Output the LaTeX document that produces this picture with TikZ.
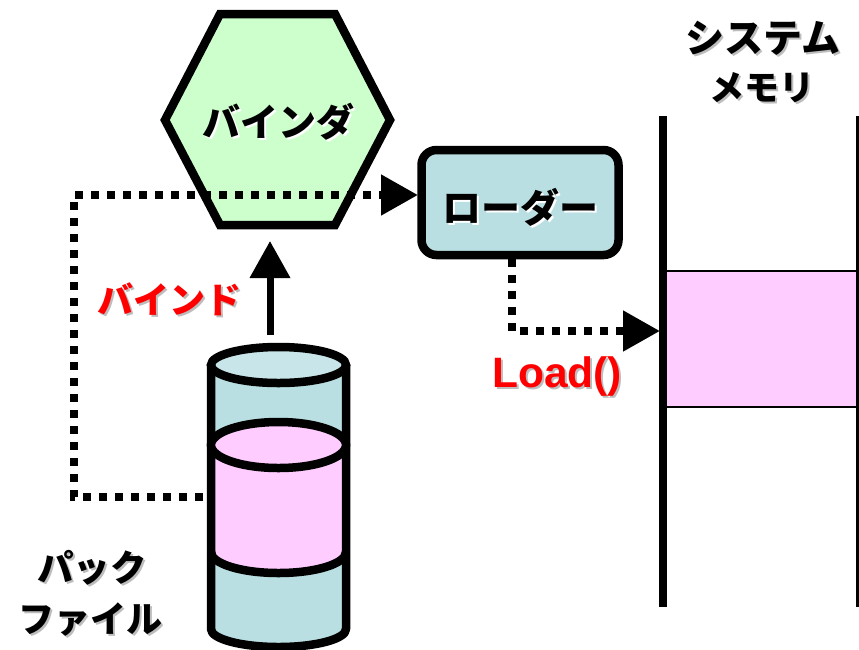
\documentclass[tikz,border=0pt]{standalone}
\usepackage{fontspec}
\usetikzlibrary{arrows.meta}
\newfontfamily\cjkfont{Noto Sans CJK JP}
\newfontfamily\latinbold{Liberation Sans}
\definecolor{tealfill}{HTML}{B9DFE2}
\definecolor{tealtop}{HTML}{C8E6E9}
\definecolor{pinkfill}{HTML}{FFCCFF}
\definecolor{greenfill}{HTML}{CCFFCC}
\definecolor{shadowgray}{HTML}{BDBDBD}
\newcommand{\shtext}[2]{\leavevmode\rlap{\kern2pt\raisebox{-2pt}{\textcolor{#1}{#2}}}#2}
\newcommand{\jpsize}[1]{\cjkfont\bfseries\fontsize{#1}{#1}\selectfont}
\tikzset{
  thick outline/.style={draw=black,line width=8.5pt,line join=miter},
  dotted link/.style={draw=black,line width=8pt,dash pattern=on 8pt off 8pt},
  big tip/.style={-{Triangle[length=37pt,width=39pt]}},
  jp/.style={inner sep=0pt,anchor=center},
  jpred/.style={jp,text=red},
  loaderbox/.style={thick outline,fill=tealfill,rounded corners=15pt,minimum width=197pt,minimum height=105pt,inner sep=0pt},
  memline/.style={draw=black,line width=8pt},
  memthin/.style={draw=black,line width=2pt},
}
\begin{document}
\begin{tikzpicture}[x=1pt,y=-1pt]
\useasboundingbox (0,0) rectangle (859,649);

% named anchor points
\coordinate (memtop) at (663,116);
\coordinate (membot) at (663,607);
\coordinate (memtopR) at (858,116);
\coordinate (membotR) at (858,607);
\coordinate (memtarget) at (660,331);
\coordinate (packleft) at (203,497);
\coordinate (corner1) at (74,497);
\coordinate (corner2) at (74,195);
\coordinate (loaderin) at (418,195);
\coordinate (loaderout) at (512,259);
\coordinate (corner3) at (512,331);
\coordinate (packtop) at (270,335);
\coordinate (bindbottom) at (270,241);

% system memory
\fill[pinkfill] (665,271) rectangle (858,407);
\draw[memthin] (665,271) -- (859,271);
\draw[memthin] (665,407) -- (859,407);
\draw[memline] (memtop) -- (membot);
\draw[draw=black,line width=4pt] (memtopR) -- (membotR);

% pack file cylinder
\path[fill=tealfill] (211,365) -- (211,629) arc[x radius=67.5,y radius=18,start angle=180,end angle=0] -- (346,365) -- cycle;
\path[fill=pinkfill] (211,445) -- (211,552) arc[x radius=67.5,y radius=21,start angle=180,end angle=0] -- (346,445) -- cycle;
\draw[thick outline] (211,552) arc[x radius=67.5,y radius=21,start angle=180,end angle=0];
\draw[thick outline,line join=round] (211,365) -- (211,629) arc[x radius=67.5,y radius=18,start angle=180,end angle=0] -- (346,365);
\draw[thick outline,fill=tealtop] (278.5,365) ellipse[x radius=67.5,y radius=18];
\draw[thick outline,fill=pinkfill] (278.5,445) ellipse[x radius=67.5,y radius=23];

% binder hexagon
\draw[thick outline,fill=greenfill] (165,120) -- (220,14) -- (335,14) -- (390,120) -- (335,225) -- (220,225) -- cycle;
\node[jp,font=\jpsize{38}] (binder) at (278,123) {\shtext{white}{バインダ}};

% loader
\node[loaderbox] (loader) at (520,202.5) {};
\node[jp,font=\jpsize{39}] (loadertext) at (520,208) {\shtext{white}{ローダー}};

% connectors
\draw[dotted link,big tip] (packleft) -- (corner1) -- (corner2) -- (loaderin);
\draw[dotted link,big tip] (loaderout) -- (corner3) -- (memtarget);
\draw[draw=black,line width=7pt,big tip] (packtop) -- (bindbottom);

% labels
\node[jpred,font=\jpsize{36}] (bindlabel) at (169,300) {\shtext{shadowgray}{バインド}};
\node[inner sep=0pt,text=red,font=\latinbold\bfseries\fontsize{42.5}{42.5}\selectfont] (loadlabel) at (557,378) {\shtext{shadowgray}{Load()}};
\node[jp,font=\jpsize{36.5}] (pack1) at (92,569) {\shtext{shadowgray}{パック}};
\node[jp,font=\jpsize{36}] (pack2) at (90,621) {\shtext{shadowgray}{ファイル}};
\node[jp,font=\jpsize{39}] (mem1) at (763,39) {\shtext{shadowgray}{システム}};
\node[jp,font=\jpsize{35}] (mem2) at (762,89) {\shtext{shadowgray}{メモリ}};
\end{tikzpicture}
\end{document}
